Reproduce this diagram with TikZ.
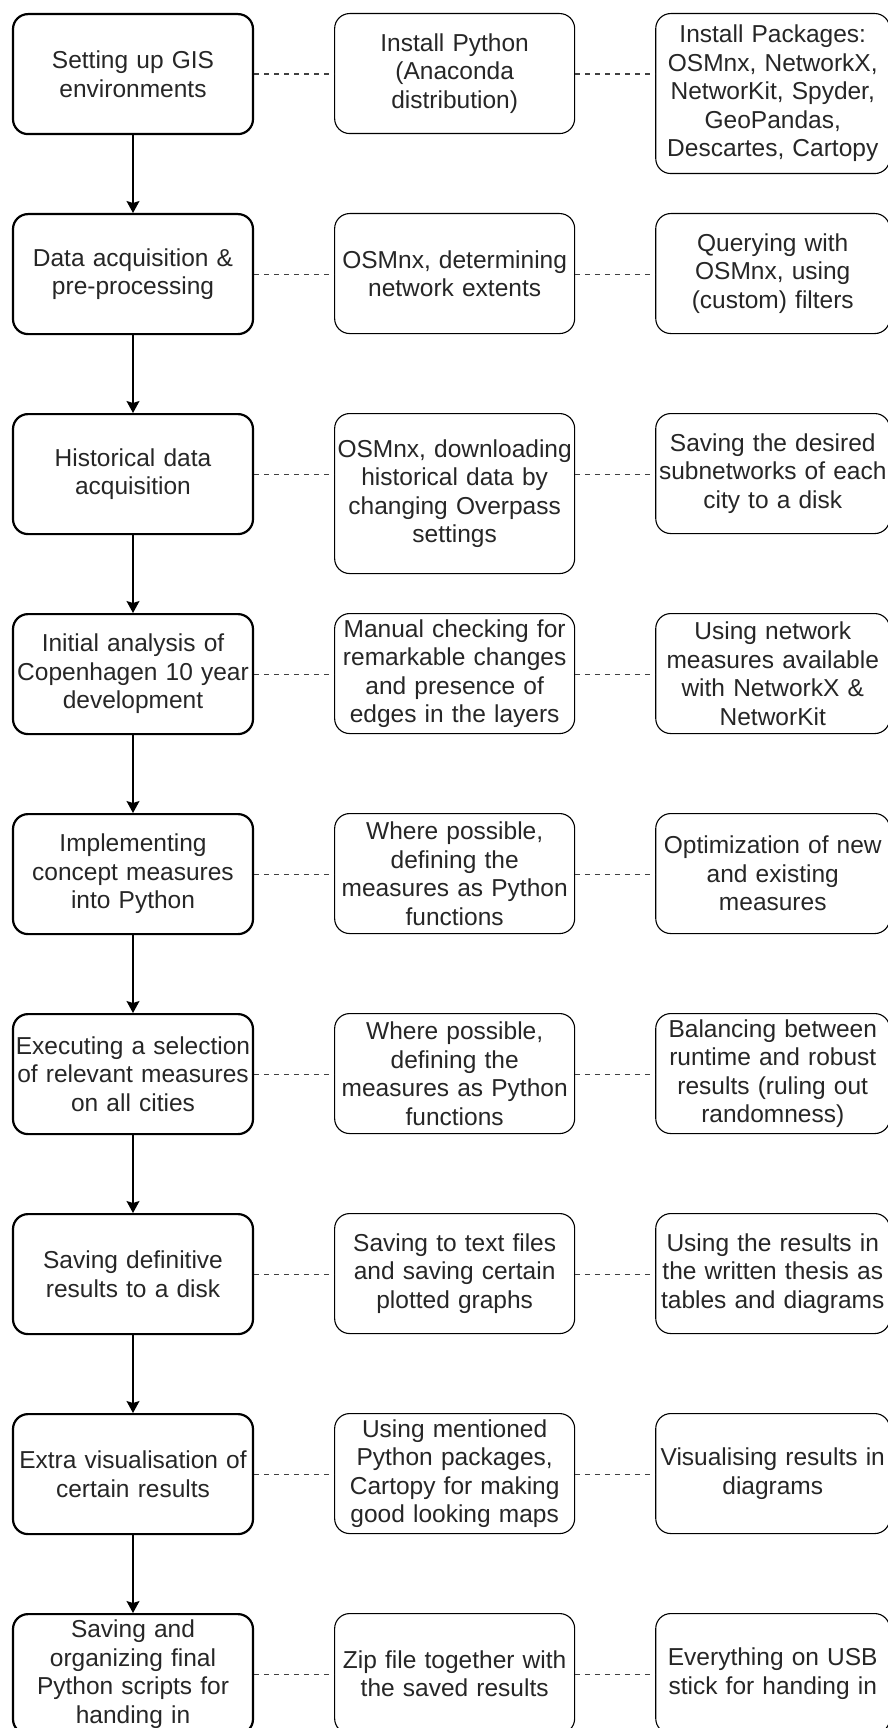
\documentclass[tikz,border=0pt]{standalone}
\usepackage{fontspec}
\setmainfont{Liberation Sans}
\usetikzlibrary{arrows.meta,positioning}
\tikzset{
  wf/.style={x=1pt, y=-1pt, >={Stealth[length=12pt,width=13pt,inset=2pt]},
             every node/.style={draw, rounded corners=15pt, align=center, anchor=north, inner sep=2pt,
                                font=\fontsize{24.5}{28.5}\selectfont, text=black!85}},
  phase/.style={line width=2.2pt, text width=236pt, minimum height=120pt},
  task/.style={line width=1.1pt, text width=236pt, minimum height=120pt, right=80pt of #1, anchor=north west},
  detail/.style={line width=1.1pt, text width=230pt, minimum height=120pt, right=80pt of #1, anchor=north west},
  tall/.style={minimum height=160pt},
  flow/.style={->, line width=1.2pt},
  link/.style={line width=1.2pt, black!75, dash pattern=on 5pt off 5pt}
}

\begin{document}
\begin{tikzpicture}[wf]
\useasboundingbox (0,0) rectangle (888,1728);
\node[phase] (p1) at (133,13) {Setting up GIS\\environments};
\node[task=p1.north east] (t1) {Install Python\\(Anaconda\\distribution)};
\node[detail=t1.north east, tall] (d1) {Install Packages:\\OSMnx, NetworkX,\\NetworKit, Spyder,\\GeoPandas,\\Descartes, Cartopy};
\node[phase] (p2) at (133,213) {Data acquisition \&\\pre-processing};
\node[task=p2.north east] (t2) {OSMnx, determining\\network extents};
\node[detail=t2.north east] (d2) {Querying with\\OSMnx, using\\(custom) filters};
\node[phase] (p3) at (133,413) {Historical data\\acquisition};
\node[task=p3.north east, tall] (t3) {OSMnx, downloading\\historical data by\\changing Overpass\\settings};
\node[detail=t3.north east] (d3) {Saving the desired\\subnetworks of each\\city to a disk};
\node[phase] (p4) at (133,613) {Initial analysis of\\Copenhagen 10 year\\development};
\node[task=p4.north east] (t4) {Manual checking for\\remarkable changes\\and presence of\\edges in the layers};
\node[detail=t4.north east] (d4) {Using network\\measures available\\with NetworkX \&\\NetworKit};
\node[phase] (p5) at (133,813) {Implementing\\concept measures\\into Python};
\node[task=p5.north east] (t5) {Where possible,\\defining the\\measures as Python\\functions};
\node[detail=t5.north east] (d5) {Optimization of new\\and existing\\measures};
\node[phase] (p6) at (133,1013) {Executing a selection\\of relevant measures\\on all cities};
\node[task=p6.north east] (t6) {Where possible,\\defining the\\measures as Python\\functions};
\node[detail=t6.north east] (d6) {Balancing between\\runtime and robust\\results (ruling out\\randomness)};
\node[phase] (p7) at (133,1213) {Saving definitive\\results to a disk};
\node[task=p7.north east] (t7) {Saving to text files\\and saving certain\\plotted graphs};
\node[detail=t7.north east] (d7) {Using the results in\\the written thesis as\\tables and diagrams};
\node[phase] (p8) at (133,1413) {Extra visualisation of\\certain results};
\node[task=p8.north east] (t8) {Using mentioned\\Python packages,\\Cartopy for making\\good looking maps};
\node[detail=t8.north east] (d8) {Visualising results in\\diagrams};
\node[phase] (p9) at (133,1613) {Saving and\\organizing final\\Python scripts for\\handing in};
\node[task=p9.north east] (t9) {Zip file together with\\the saved results};
\node[detail=t9.north east] (d9) {Everything on USB\\stick for handing in};
\foreach \i in {1,...,9}
  \draw[link] (p\i.east) -- (p\i.east -| t\i.west) (p\i.east -| t\i.east) -- (p\i.east -| d\i.west);
\foreach \i [evaluate=\i as \j using int(\i+1)] in {1,...,8}
  \draw[flow] (p\i) -- (p\j);
\end{tikzpicture}
\end{document}
